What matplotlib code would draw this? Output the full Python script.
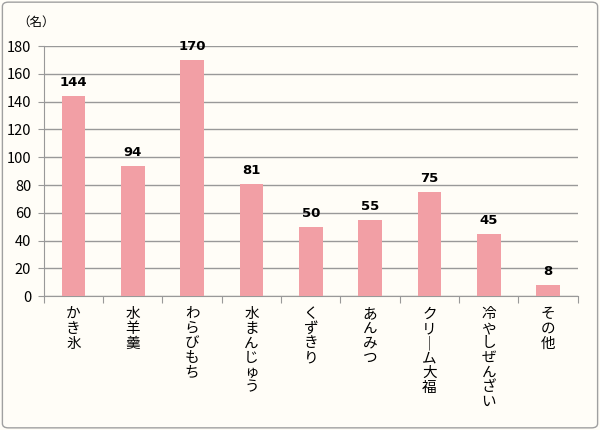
import matplotlib
matplotlib.use('Agg')
import matplotlib.pyplot as plt
from matplotlib.patches import FancyBboxPatch
import numpy as np

plt.rcParams['font.family'] = ['Noto Sans CJK JP', 'DejaVu Sans']

categories = ['かき氷', '水羊羹', 'わらびもち', '水まんじゅう', 'くずきり',
              'あんみつ', 'クリーム大福', '冷やしぜんざい', 'その他']
values = [144, 94, 170, 81, 50, 55, 75, 45, 8]
yticks = [0, 20, 40, 60, 80, 100, 120, 140, 160, 180]

bg = '#FFFDF7'
bar_color = '#F29FA5'
line_color = '#999999'

fig = plt.figure(figsize=(6, 4.3), dpi=100, facecolor=bg)
fig.patches.append(FancyBboxPatch((0.004, 0.005), 0.992, 0.99,
                                  boxstyle='round,pad=0,rounding_size=0.01',
                                  transform=fig.transFigure, fc=bg,
                                  ec='#A0A0A0', lw=1.0, zorder=-1))

ax = fig.add_axes([0.073, 0.311, 0.89, 0.582])
ax.set_facecolor(bg)
x = np.arange(len(categories))
ax.bar(x, values, width=0.4, color=bar_color, zorder=3)

for xi, v in zip(x, values):
  ax.text(xi, v + 5, str(v), ha='center', va='bottom',
          fontsize=9.5, fontweight='bold', family='DejaVu Sans')

ax.set_xlim(-0.5, len(categories) - 0.5)
ax.set_ylim(0, 180)
ax.set_yticks(yticks)
ax.yaxis.grid(True, color=line_color, lw=1, zorder=0)
ax.tick_params(axis='y', length=4, color=line_color, labelsize=10.5, pad=5)
for s in ['top', 'right']:
  ax.spines[s].set_visible(False)
ax.spines['left'].set_color(line_color)
ax.spines['bottom'].set_color(line_color)

# boundary ticks on x axis
ax.set_xticks(np.arange(-0.5, len(categories)), minor=False)
ax.set_xticklabels([])
ax.tick_params(axis='x', length=5, color=line_color)

for xi, c in zip(x, categories):
  txt = '\n'.join(c.replace('ー', '｜'))
  ax.text(xi, -8, txt, ha='center', va='top', fontsize=10.5,
          linespacing=1.05)

fig.text(0.028, 0.948, '（名）', fontsize=9, ha='left', va='center')

fig.savefig('out.png', dpi=100, facecolor=bg)
